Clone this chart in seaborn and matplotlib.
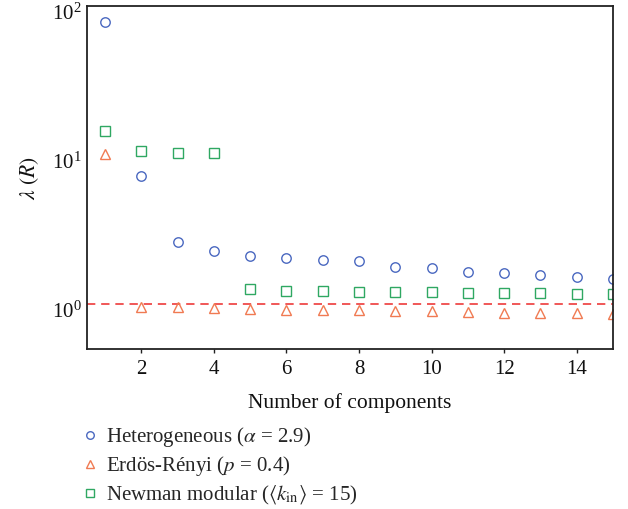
import matplotlib
matplotlib.use("Agg")
import matplotlib.pyplot as plt
import matplotlib.transforms as mtransforms
import seaborn as sns
import pandas as pd

# Largest eigenvalue of R versus number of components, per network model
components = list(range(1, 16))
heterogeneous = [78, 7.2, 2.62, 2.27, 2.11, 2.04, 1.97, 1.95, 1.77, 1.74,
                 1.64, 1.63, 1.56, 1.51, 1.48]
erdos_renyi = [10.2, 0.955, 0.95, 0.94, 0.925, 0.92, 0.91, 0.907, 0.90, 0.893,
               0.884, 0.875, 0.87, 0.87, 0.86]
newman_modular = [14.5, 10.7, 10.4, 10.4, 1.26, 1.23, 1.22, 1.21, 1.21, 1.20,
                  1.19, 1.185, 1.18, 1.17, 1.17]
labels = [r"Heterogeneous ($\alpha$ = 2.9)",
          r"Erdös-Rényi ($p$ = 0.4)",
          r"Newman modular ($\langle k_{\mathrm{in}}\rangle$ = 15)"]
x_ticks = [2, 4, 6, 8, 10, 12, 14]

sns.set_theme(style="white")
plt.rcParams["font.family"] = ["Liberation Serif", "DejaVu Serif"]
plt.rcParams["mathtext.fontset"] = "stix"
plt.rcParams["font.size"] = 15

fig = plt.figure(figsize=(6.28, 5.09), dpi=100)
ax = fig.add_axes([0.1385, 0.3143, 0.976 - 0.1385, 0.988 - 0.3143])

series = [heterogeneous, erdos_renyi, newman_modular]
markers = ["o", "^", "s"]
colors = ["#4A68C0", "#F07A52", "#2FA862"]

for vals, lab, mk, col in zip(series, labels, markers, colors):
    df = pd.DataFrame({"components": components, "value": vals})
    sns.lineplot(data=df, x="components", y="value", ax=ax, estimator=None,
                 linestyle="", marker=mk, markersize=6.8,
                 markerfacecolor="none", markeredgecolor=col,
                 markeredgewidth=1.0, color=col, label=lab, clip_on=True)

ax.axhline(1.0, color="#EE3B3B", linestyle=(0, (5, 3.5)), linewidth=1.2, zorder=0)

ax.set_yscale("log")
ax.set_ylim(0.5, 100)
ax.set_xlim(0.5, 15)
ax.set_xticks(x_ticks)
ax.set_yticks([1, 10, 100])
ax.minorticks_off()
ax.yaxis.set_minor_locator(matplotlib.ticker.NullLocator())

ax.tick_params(axis="x", length=3, width=1, direction="out", labelsize=15, pad=5,
               bottom=True, colors="#222222")
ax.tick_params(axis="y", length=0, labelsize=15, pad=4)
for lab in ax.get_xticklabels() + ax.get_yticklabels():
    lab.set_color("#111111")

# nudge y tick labels slightly downward so the top label stays inside the figure
shift = mtransforms.ScaledTranslation(0, -4 / 72, fig.dpi_scale_trans)
for lab in ax.get_yticklabels():
    lab.set_transform(lab.get_transform() + shift)

for sp in ax.spines.values():
    sp.set_color("#222222")
    sp.set_linewidth(1.3)
    sp.set_visible(True)

ax.set_xlabel("Number of components", fontsize=15.5, labelpad=10, color="#111111")
ax.set_ylabel(r"$\lambda$ $(R)$", fontsize=15.5, labelpad=8, color="#111111")

handles, hlabels = ax.get_legend_handles_labels()
ax.get_legend().remove()
fig.legend(handles, hlabels, loc="upper left", bbox_to_anchor=(0.116, 0.181),
           frameon=False, fontsize=15, handlelength=0.8, handletextpad=0.4,
           labelspacing=0.25, borderaxespad=0, markerscale=0.8)

fig.savefig("out.png", dpi=100)
